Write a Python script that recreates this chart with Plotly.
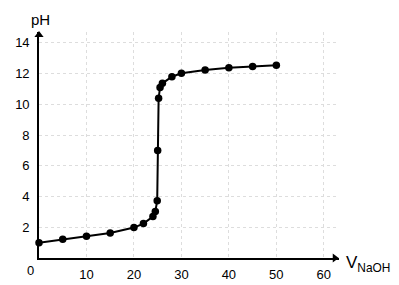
import plotly.graph_objects as go

v_naoh = [0, 5, 10, 15, 20, 22, 24, 24.5, 24.9, 25, 25.2, 25.5, 26, 28, 30, 35, 40, 45, 50]
ph = [1.0, 1.22, 1.42, 1.63, 1.98, 2.24, 2.7, 3.03, 3.72, 7.0, 10.4, 11.1, 11.37, 11.8, 12.02, 12.24, 12.38, 12.47, 12.55]
x_ticks = [10, 20, 30, 40, 50, 60]
y_ticks = [2, 4, 6, 8, 10, 12, 14]

X_MAX = 63.2
Y_MAX = 14.71

fig = go.Figure()
# axis arrowheads
fig.add_trace(go.Scatter(
    x=[X_MAX - 0.9, 0], y=[0, Y_MAX - 0.2], mode="markers",
    marker=dict(symbol=["triangle-right", "triangle-up"], color="black", size=8),
    cliponaxis=False, showlegend=False, hoverinfo="skip",
))
fig.add_trace(go.Scatter(
    x=v_naoh, y=ph, mode="lines+markers",
    line=dict(color="black", width=2),
    marker=dict(color="black", size=7.5),
    cliponaxis=False, showlegend=False,
))

font = dict(family="Liberation Sans, Arial, sans-serif", color="black")

fig.update_layout(
    width=399, height=285,
    margin=dict(l=39, r=60, t=32, b=27),
    paper_bgcolor="white", plot_bgcolor="white",
    font=dict(size=13, **font),
    xaxis=dict(range=[0, X_MAX], tickvals=x_ticks, showgrid=True,
               gridcolor="#dddddd", griddash="dot", gridwidth=1,
               zeroline=False, showline=True, linecolor="black", linewidth=1.6,
               ticks="", ticklabelstandoff=4, automargin=False),
    yaxis=dict(range=[0, Y_MAX], tickvals=y_ticks, showgrid=True,
               gridcolor="#dddddd", griddash="dot", gridwidth=1,
               zeroline=False, showline=True, linecolor="black", linewidth=1.6,
               ticks="", ticklabelstandoff=5, automargin=False),
    annotations=[
        dict(x=0, y=0, xref="x", yref="y", xshift=-9, yshift=-12,
             text="0", showarrow=False, font=dict(size=13, **font)),
        dict(x=0, y=Y_MAX, xref="x", yref="y", xanchor="left", yanchor="bottom",
             xshift=-10, yshift=2, text="pH", showarrow=False,
             font=dict(size=15, **font)),
        dict(x=X_MAX, y=0, xref="x", yref="y", xanchor="left", yanchor="middle",
             xshift=5, yshift=-6,
             text="V<sub>NaOH</sub>", showarrow=False,
             font=dict(size=17, **font)),
    ],
)

fig.write_html("out.html")
